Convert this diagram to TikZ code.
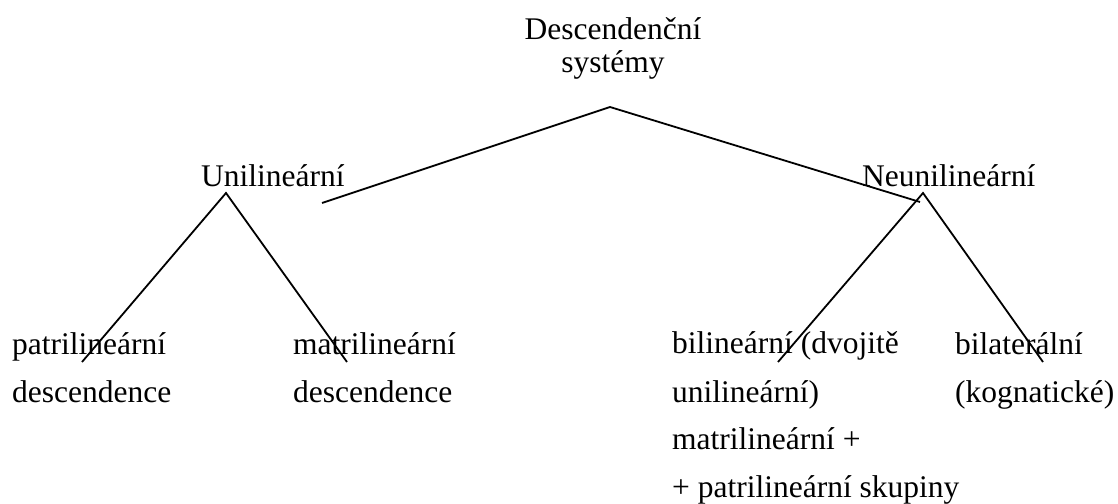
\documentclass[tikz,border=0pt]{standalone}
\usepackage{fontspec}
\setmainfont{Liberation Serif}
\begin{document}
\begin{tikzpicture}[x=1pt,y=-1pt,
  lbl/.style={anchor=base west,inner sep=0pt,font=\fontsize{31.5}{36}\selectfont},
  ttl/.style={lbl,anchor=base},
  conn/.style={draw=black,line width=1.8pt}]
\useasboundingbox (0,0) rectangle (1118,503);
% texts
\node[ttl] (d1) at (613,40) {Descendenční};
\node[ttl] (d2) at (613,73) {systémy};
\node[lbl] (uni) at (201,186) {Unilineární};
\node[lbl] (neu) at (862,186) {Neunilineární};
\node[lbl] (pat1) at (12,354) {patrilineární};
\node[lbl] (pat2) at (12,402) {descendence};
\node[lbl] (mat1) at (293,354) {matrilineární};
\node[lbl] (mat2) at (293,402) {descendence};
\node[lbl] (bil1) at (672,353) {bilineární (dvojitě};
\node[lbl] (bil2) at (672,402) {unilineární)};
\node[lbl] (bil3) at (672,449) {matrilineární +};
\node[lbl] (bil4) at (672,497) {+ patrilineární skupiny};
\node[lbl] (bla1) at (955,354) {bilaterální};
\node[lbl] (bla2) at (955,402) {(kognatické)};
% connector points
\coordinate (topapex) at (610,107);
\coordinate (topl) at (322,203);
\coordinate (topr) at (920,202);
\coordinate (uapex) at (226,193);
\coordinate (uleft) at (82,362);
\coordinate (uright) at (347,362);
\coordinate (napex) at (923,193);
\coordinate (nleft) at (778,362);
\coordinate (nright) at (1043,362);
% connectors
\draw[conn] (topl) -- (topapex) -- (topr);
\draw[conn] (uleft) -- (uapex) -- (uright);
\draw[conn] (nleft) -- (napex) -- (nright);
\end{tikzpicture}
\end{document}
